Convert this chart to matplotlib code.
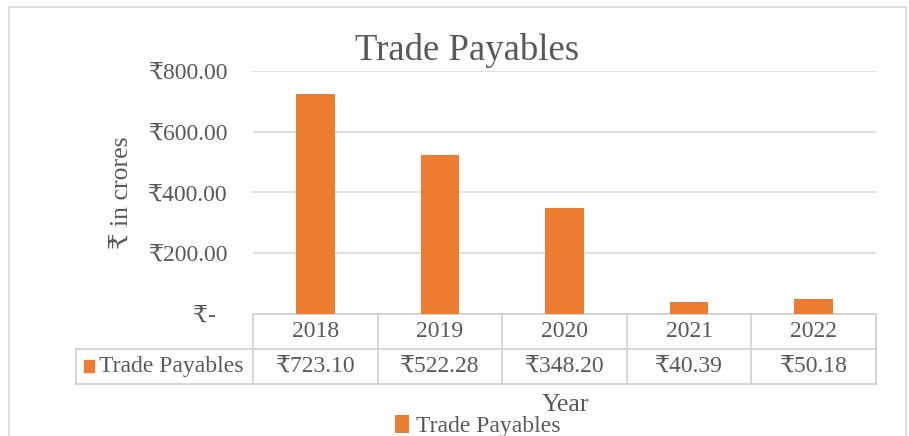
import matplotlib
matplotlib.use('Agg')
import matplotlib.pyplot as plt
import matplotlib.transforms as mtransforms
from matplotlib.patches import Rectangle

plt.rcParams['font.family'] = ['Liberation Serif', 'DejaVu Serif', 'Noto Sans']

years = ['2018', '2019', '2020', '2021', '2022']
payables = [723.10, 522.28, 348.20, 40.39, 50.18]
series_name = 'Trade Payables'
y_ticks = [0, 200, 400, 600, 800]

W, H = 909, 436
txt = '#595959'
grid_c = '#D9D9D9'
line_c = '#D0D0D0'
orange = '#ED7D31'


def fx(px):
    return px / W


def fy(py):
    return 1 - py / H


fig = plt.figure(figsize=(W / 100, H / 100), dpi=100)

# chart frame
fig.patches.append(Rectangle((fx(9), fy(440)), fx(906) - fx(9), fy(7) - fy(440),
                             transform=fig.transFigure, fill=False,
                             edgecolor=grid_c, linewidth=1.2))

ax = fig.add_axes([fx(253), fy(314), fx(876) - fx(253), fy(71) - fy(314)])
x = list(range(len(years)))
bars = ax.bar(x, payables, width=0.31, color=orange, label=series_name, zorder=3)
ax.set_xlim(-0.5, len(years) - 0.5)
ax.set_ylim(0, 800)
ax.set_yticks(y_ticks)
ax.set_yticklabels(['₹-  ' if v == 0 else '₹{:.2f}'.format(v) for v in y_ticks])
ax.tick_params(axis='y', length=0, pad=18, labelsize=17, labelcolor=txt)
ax.set_xticks([])
ax.grid(axis='y', color=grid_c, linewidth=1.2, zorder=0)
for s in ['top', 'right', 'left', 'bottom']:
    ax.spines[s].set_visible(False)

ax.set_ylabel('₹ in crores', fontsize=18.5, color=txt)
ax.yaxis.set_label_coords((133 - 253) / (876 - 253), 0.5)

fig.text(fx(467), fy(50), 'Trade Payables', ha='center', va='center',
         fontsize=26.5, color=txt)

# data table below the axis
tr = mtransforms.blended_transform_factory(ax.transData, fig.transFigure)
top, mid, bot = fy(314), fy(349), fy(384)
lx0 = -0.5 - (253 - 76) / ((876 - 253) / len(years))
kw = dict(transform=tr, color=line_c, linewidth=1.2, clip_on=False)
ax.plot([-0.5, len(years) - 0.5], [top, top], **kw)
ax.plot([lx0, len(years) - 0.5], [mid, mid], **kw)
ax.plot([lx0, len(years) - 0.5], [bot, bot], **kw)
for i in range(len(years) + 1):
    ax.plot([i - 0.5, i - 0.5], [top, bot], **kw)
ax.plot([lx0, lx0], [mid, bot], **kw)

for i, (yr, v) in enumerate(zip(years, payables)):
    ax.text(i, (top + mid) / 2, yr, transform=tr, ha='center', va='center',
            fontsize=17, color=txt)
    ax.text(i, (mid + bot) / 2, '₹{:.2f}'.format(v), transform=tr,
            ha='center', va='center', fontsize=17, color=txt)

fig.patches.append(Rectangle((fx(84), fy(372)), fx(94) - fx(84), fy(360) - fy(372),
                             transform=fig.transFigure, color=orange))
fig.text(fx(99), (mid + bot) / 2, series_name, ha='left', va='center',
         fontsize=17, color=txt)

fig.text(fx(565), fy(405), 'Year', ha='center', va='center', fontsize=18.5, color=txt)

fig.legend(handles=[bars], labels=[series_name], loc='center',
           bbox_to_anchor=(fx(478), fy(426)), frameon=False, fontsize=17,
           handlelength=0.6, handleheight=0.8, handletextpad=0.3,
           labelcolor=txt, borderpad=0)

fig.savefig('out.png', dpi=100)
